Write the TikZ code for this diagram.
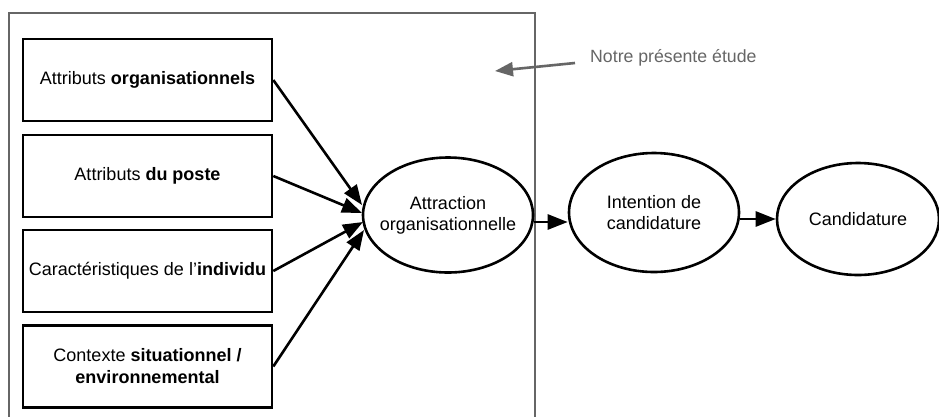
\documentclass[tikz,border=0pt]{standalone}
\usepackage{fontspec}
\setmainfont{Liberation Sans}
\usetikzlibrary{arrows.meta,shapes.geometric}
\begin{document}
\begin{tikzpicture}[x=1pt,y=-1pt,
  factor/.style={draw=black,line width=2.6pt,minimum width=249pt,minimum height=82pt,inner sep=0pt,align=center,font=\fontsize{18}{22}\selectfont},
  oval/.style={draw=black,line width=2.6pt,ellipse,inner sep=0pt},
  ovaltext/.style={align=center,font=\fontsize{18}{21}\selectfont,inner sep=0pt},
  conn/.style={draw=black,line width=2.6pt,-{Triangle[length=20pt,width=15pt]}},
  noteconn/.style={draw=black!60,line width=2.6pt,-{Triangle[length=18pt,width=14pt]}}]
\useasboundingbox (0,0) rectangle (939,416);
\clip (0,0) rectangle (939,416);
\fill[white] (0,0) rectangle (939,416);
\draw[black!60,line width=2.6pt] (9,430) -- (9,13) -- (535,13) -- (535,430);
\node[factor] (f1) at (147.5,80) {Attributs \textbf{organisationnels}};
\node[factor] (f2) at (147.5,176) {Attributs \textbf{du poste}};
\node[factor] (f3) at (147.5,271) {Caractéristiques de l’\textbf{individu}};
\node[factor] (f4) at (147.5,366.5) {Contexte \textbf{situationnel /}\\\textbf{environnemental}};
\node[oval,minimum width=170pt,minimum height=115pt] (att) at (448,215) {};
\node[ovaltext] (atttext) at (att.center) {Attraction\\organisationnelle};
\node[oval,minimum width=170pt,minimum height=119pt] (int) at (654,212.5) {};
\node[ovaltext] (inttext) at (int.center) {Intention de\\candidature};
\node[oval,minimum width=162pt,minimum height=112pt] (cand) at (858,219) {};
\node[ovaltext] (candtext) at (cand.center) {Candidature};
\coordinate (e1) at (362,205);
\coordinate (e2) at (362,213);
\coordinate (e3) at (363,222);
\coordinate (e4) at (364,230);
\draw[conn] (f1.east) -- (e1);
\draw[conn] (f2.east) -- (e2);
\draw[conn] (f3.east) -- (e3);
\draw[conn] (f4.east) -- (e4);
\draw[conn] (att.east |- 0,222) -- (int.west |- 0,222);
\draw[conn] (int.east |- 0,219) -- (cand.west |- 0,219);
\node[anchor=west,text=black!60,font=\fontsize{17.7}{20}\selectfont,inner sep=0pt] (note) at (590,58) {Notre présente étude};
\coordinate (ntip) at (495,71);
\draw[noteconn] (575,63) -- (ntip);
\end{tikzpicture}
\end{document}
